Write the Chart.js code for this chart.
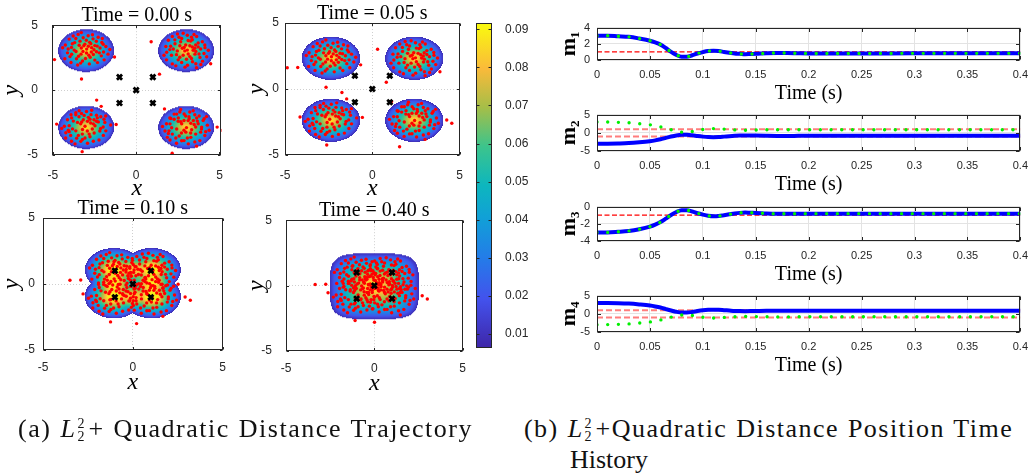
<!DOCTYPE html>
<html>
<head>
<meta charset="utf-8">
<script src="https://cdn.jsdelivr.net/npm/chart.js@4.4.1/dist/chart.umd.min.js"></script>
<style>
  body { margin: 0; background: #fff; width: 1036px; height: 476px; overflow: hidden; position: relative; }
  canvas { position: absolute; }
  .cap { position: absolute; font-family: "Liberation Serif", serif; font-size: 26px; line-height: 31px; color: #111; white-space: nowrap; word-spacing: 1px; }
  .ss { display: inline-block; position: relative; width: 12px; height: 0; text-indent: 0; }
  .ss span { position: absolute; left: 1px; font-size: 14px; line-height: 14px; font-style: normal; text-indent: 0; letter-spacing: 0; }
</style>
</head>
<body>
<canvas id="f0" width="236" height="197" style="left:0px;top:4px"></canvas>
<canvas id="f1" width="231" height="197" style="left:245px;top:4px"></canvas>
<canvas id="f2" width="236" height="196" style="left:0px;top:199px"></canvas>
<canvas id="f3" width="231" height="197" style="left:245px;top:199px"></canvas>
<canvas id="cbar" width="70" height="349" style="left:466px;top:11px"></canvas>
<canvas id="r0" width="486" height="90" style="left:550px;top:14px"></canvas>
<canvas id="r1" width="486" height="94" style="left:550px;top:101px"></canvas>
<canvas id="r2" width="486" height="92" style="left:550px;top:193px"></canvas>
<canvas id="r3" width="486" height="94" style="left:550px;top:282px"></canvas>

<div class="cap" style="left:18px;top:413px"><span class="fit" data-w="455">(a) <i>L</i><span class="ss"><span style="bottom:6px">2</span><span style="bottom:-7px">2</span></span>+ Quadratic Distance Trajectory</span></div>
<div class="cap" style="left:524px;top:413px;padding-left:46px;text-indent:-46px"><span class="fit" data-w="489">(b) <i>L</i><span class="ss"><span style="bottom:6px">2</span><span style="bottom:-7px">2</span></span>+Quadratic Distance Position Time</span><br>History</div>

<script>
// ---------- left: swarm snapshots ----------
const frameTitles = ["Time = 0.00 s", "Time = 0.05 s", "Time = 0.10 s", "Time = 0.40 s"];
const targets = [[-1, 1], [1, 1], [0, 0], [-1, -1], [1, -1]];

// centre of each agent group in every frame
const groupCenters = [
  [[-3, 3.05], [3, 3.05], [-3, -2.87], [3, -2.87]],
  [[-2.37, 2.33], [2.4, 2.33], [-2.37, -2.37], [2.4, -2.37]],
  [[-1.0, 1.0], [1.05, 1.0], [-1.0, -1.0], [1.05, -1.0]],
  [[-0.85, 0.8], [0.85, 0.8], [-0.85, -0.8], [0.85, -0.8]]
];

// agent positions relative to their group centre
const groupA = [[-1.25,0.42],[-1.02,0.88],[-0.78,1.12],[-0.48,1.24],[-0.18,0.98],[0.12,1.14],[0.41,0.9],[0.72,1.02],[0.94,0.62],[1.18,0.31],
  [-1.12,-0.18],[-0.88,0.24],[-0.69,0.61],[-0.37,0.72],[-0.08,0.49],[0.21,0.63],[0.52,0.38],[0.83,0.19],[1.04,-0.12],[1.31,-0.28],
  [-1.28,-0.63],[-0.97,-0.47],[-0.61,-0.08],[-0.29,0.19],[0.03,0.11],[0.33,0.22],[0.62,-0.09],[0.91,-0.41],[1.08,-0.72],[0.68,-0.93],
  [-0.91,-0.92],[-0.58,-0.63],[-0.31,-0.28],[0.02,-0.19],[0.24,-0.52],[0.43,-0.31],[0.52,-0.74],[0.19,-1.03],[-0.22,-0.81],[-0.51,-1.12],
  [-0.72,0.03],[-0.42,0.41],[-0.19,-0.07],[0.13,0.33],[0.31,-0.12],[0.61,0.71],[-0.83,0.52],[0.01,0.79],[0.38,1.21],[-0.29,1.38],
  [0.79,-0.18],[1.02,0.48],[-1.08,0.12],[-0.62,0.93],[0.16,-0.36],[-0.14,0.37],[0.47,0.06],[-0.46,-0.44],[0.66,0.34],[-0.04,-0.61],
  [0.28,0.52],[-0.87,-0.29],[0.97,0.93],[-0.33,-0.97],[1.42,0.08],[-1.41,0.21],
  [-2.5,-0.72],[-1.9,-0.7],[-0.28,-2.2],[1.7,-0.5]];
const groupB = [[-1.22,0.31],[-1.07,0.79],[-0.83,1.08],[-0.52,1.27],[-0.27,0.93],[0.07,1.17],[0.37,0.83],[0.63,1.08],[0.97,0.68],[1.13,0.22],
  [-1.17,-0.13],[-0.93,0.33],[-0.67,0.52],[-0.33,0.68],[-0.03,0.42],[0.27,0.73],[0.57,0.42],[0.87,0.12],[1.07,-0.23],[1.23,-0.48],
  [-1.18,-0.72],[-0.88,-0.37],[-0.53,-0.03],[-0.23,0.17],[0.07,0.03],[0.37,0.27],[0.58,-0.07],[0.83,-0.53],[0.98,-0.82],[0.58,-1.02],
  [-0.83,-1.03],[-0.48,-0.72],[-0.18,-0.37],[0.12,-0.27],[0.32,-0.62],[0.53,-0.28],[0.38,-0.87],[0.08,-1.13],[-0.27,-0.92],[-0.62,-1.18],
  [-0.77,0.12],[-0.38,0.37],[-0.08,-0.03],[0.22,0.37],[0.42,0.02],[0.72,0.58],[-0.68,0.82],[0.12,0.77],[0.47,1.23],[-0.18,1.33],
  [0.77,-0.27],[1.12,0.43],[-0.98,0.07],[-0.43,1.02],[0.22,-0.47],[-0.12,0.23],[0.52,0.17],[-0.38,-0.52],[0.72,0.28],[0.02,-0.67],
  [1.33,0.02],[-1.33,-0.37],[0.88,-1.08],[-0.07,-1.28],[0.32,1.02],[-0.58,-0.32],
  [-2.1,0.68],[-1.6,-1.82],[1.47,-1.02],[0.62,-1.32]];
const groupC = [[-1.31,0.08],[-1.12,0.58],[-0.91,0.97],[-0.62,1.13],[-0.28,1.07],[0.02,1.22],[0.29,0.98],[0.62,0.93],[0.88,0.82],[1.12,0.38],
  [-1.22,-0.42],[-1.02,0.13],[-0.77,0.48],[-0.43,0.82],[-0.17,0.58],[0.13,0.77],[0.47,0.58],[0.73,0.42],[1.02,0.03],[1.18,-0.27],
  [-1.23,-0.82],[-0.93,-0.62],[-0.62,-0.27],[-0.33,0.27],[-0.07,0.08],[0.27,0.33],[0.53,0.12],[0.82,-0.28],[1.03,-0.62],[0.77,-0.97],
  [-0.88,-1.07],[-0.57,-0.83],[-0.23,-0.52],[0.07,-0.28],[0.23,-0.72],[0.48,-0.43],[0.43,-1.07],[0.08,-1.22],[-0.32,-1.08],[-0.67,-1.27],
  [-0.82,-0.12],[-0.52,0.38],[-0.22,-0.17],[0.08,0.47],[0.37,-0.13],[0.67,0.73],[-0.87,0.73],[-0.12,0.92],[0.33,1.32],[-0.42,1.28],
  [0.87,-0.08],[1.07,0.62],[-1.07,-0.22],[-0.62,0.97],[0.18,-0.52],[-0.27,0.42],[0.43,0.27],[-0.47,-0.62],[0.62,0.47],[-0.07,-0.82],
  [0.23,0.62],[-1.02,-0.33],[1.17,0.88],[-0.22,-0.93],[1.47,0.18],[-1.47,-0.08],
  [0.63,2.1],[1.8,0.22],[-0.24,-1.87],[-1.77,0.25],[0.9,1.62]];
const groupD = [[-1.18,0.28],[-0.98,0.72],[-0.72,1.02],[-0.38,1.18],[-0.12,1.03],[0.22,1.18],[0.52,0.97],[0.78,0.87],[1.02,0.53],[1.27,0.17],
  [-1.27,-0.28],[-0.97,0.27],[-0.72,0.62],[-0.47,0.73],[-0.13,0.53],[0.17,0.82],[0.43,0.53],[0.72,0.28],[0.93,0.02],[1.17,-0.33],
  [-1.13,-0.77],[-0.83,-0.52],[-0.57,-0.13],[-0.27,0.28],[0.02,-0.02],[0.28,0.32],[0.57,0.03],[0.87,-0.37],[1.12,-0.63],[0.82,-1.02],
  [-0.97,-0.98],[-0.62,-0.82],[-0.28,-0.43],[-0.02,-0.37],[0.28,-0.77],[0.57,-0.52],[0.52,-1.12],[0.13,-1.27],[-0.27,-1.03],[-0.58,-1.22],
  [-0.87,-0.03],[-0.48,0.47],[-0.13,-0.22],[0.12,0.52],[0.33,-0.18],[0.63,0.72],[-0.92,0.68],[-0.03,0.87],[0.42,1.28],[-0.33,1.37],
  [0.92,-0.13],[1.08,0.67],[-1.03,-0.27],[-0.57,1.02],[0.27,-0.43],[-0.32,0.43],[0.48,0.22],[-0.42,-0.67],[0.67,0.48],[0.07,-0.82],
  [0.18,0.67],[-1.07,-0.47],[1.22,0.83],[-0.13,-1.02],[1.38,-0.22],[-1.42,0.07],
  [-0.84,-2.0],[1.86,0.02],[2.15,-0.23],[0.62,-1.45],[-1.3,1.42]];

// density support per frame: [cx, cy, rx, ry]
const frameLobes = [
  [[-3, 3.05, 1.68, 1.65], [3, 3.05, 1.68, 1.65], [-3, -2.87, 1.68, 1.66], [3, -2.87, 1.68, 1.66]],
  [[-2.37, 2.33, 1.67, 1.64], [2.4, 2.33, 1.67, 1.64], [-2.37, -2.37, 1.67, 1.64], [2.4, -2.37, 1.67, 1.64]],
  [[-1.05, 1.08, 1.62, 1.65], [1.05, 1.08, 1.62, 1.65], [-1.05, -0.95, 1.62, 1.65], [1.05, -0.95, 1.62, 1.65]],
  [[0, -0.05, 2.52, 2.52]]
];
const lobePower = [2, 2, 2, 4];
const lobeFalloff = [1.1, 1.1, 1.1, 1.4];
const lobeGain = [1, 1, 1.2, 1];
const xLimits = [[-5.05, 5.12], [-5, 5], [-5, 5], [-5, 5]];
const cbarRange = [0.0064, 0.0916];

// ---------- right: time histories ----------
const timeS = [0, 0.01, 0.02, 0.03, 0.04, 0.05, 0.055, 0.06, 0.065, 0.07, 0.075, 0.08, 0.085, 0.09, 0.095, 0.1,
  0.105, 0.11, 0.115, 0.12, 0.125, 0.13, 0.135, 0.14, 0.145, 0.15, 0.16, 0.17, 0.18, 0.19, 0.2, 0.25, 0.3, 0.35, 0.4];
const m1Blue = [3.0, 3.0, 2.93, 2.86, 2.65, 2.38, 2.17, 1.9, 1.48, 1.0, 0.62, 0.41, 0.41, 0.59, 0.8, 0.97,
  1.1, 1.14, 1.1, 1.0, 0.9, 0.8, 0.76, 0.72, 0.74, 0.76, 0.83, 0.86, 0.86, 0.83, 0.81, 0.81, 0.82, 0.82, 0.82];
const m1Green = [3.0, 3.0, 2.93, 2.86, 2.65, 2.38, 2.17, 1.9, 1.48, 1.0, 0.62, 0.41, 0.41, 0.59, 0.8, 0.97,
  1.1, 1.14, 1.1, 1.0, 0.9, 0.8, 0.76, 0.72, 0.74, 0.76, 0.83, 0.86, 0.86, 0.83, 0.81, 0.81, 0.82, 0.82, 0.82];
const m2Blue = [-3.0, -2.98, -2.92, -2.82, -2.6, -2.3, -2.08, -1.78, -1.4, -1.02, -0.72, -0.56, -0.55, -0.68, -0.88, -1.05,
  -1.17, -1.2, -1.16, -1.05, -0.93, -0.83, -0.76, -0.73, -0.74, -0.77, -0.82, -0.85, -0.85, -0.84, -0.83, -0.82, -0.82, -0.82, -0.82];
const m2Green = [3.0, 2.97, 2.88, 2.75, 2.5, 2.2, 1.95, 1.65, 1.25, 0.85, 0.45, 0.18, 0.15, 0.35, 0.62, 0.9,
  1.08, 1.15, 1.12, 1.02, 0.9, 0.8, 0.74, 0.72, 0.73, 0.76, 0.82, 0.85, 0.85, 0.83, 0.82, 0.82, 0.82, 0.82, 0.82];
const m3Blue = [-3.0, -3.0, -2.93, -2.83, -2.63, -2.33, -2.1, -1.8, -1.4, -0.97, -0.63, -0.43, -0.43, -0.57, -0.77, -0.93,
  -1.07, -1.13, -1.1, -1.0, -0.9, -0.8, -0.73, -0.7, -0.72, -0.73, -0.8, -0.83, -0.83, -0.83, -0.82, -0.82, -0.82, -0.82, -0.82];
const m3Green = [-3.0, -3.0, -2.93, -2.83, -2.63, -2.33, -2.1, -1.8, -1.4, -0.97, -0.63, -0.43, -0.43, -0.57, -0.77, -0.93,
  -1.07, -1.13, -1.1, -1.0, -0.9, -0.8, -0.73, -0.7, -0.72, -0.73, -0.8, -0.83, -0.83, -0.83, -0.82, -0.82, -0.82, -0.82, -0.82];
const m4Blue = [3.0, 2.98, 2.92, 2.8, 2.57, 2.27, 2.03, 1.72, 1.3, 0.9, 0.55, 0.35, 0.34, 0.5, 0.75, 0.95,
  1.08, 1.13, 1.1, 1.0, 0.9, 0.8, 0.75, 0.73, 0.74, 0.77, 0.83, 0.86, 0.86, 0.84, 0.82, 0.82, 0.82, 0.82, 0.82];
const m4Green = [-3.0, -2.97, -2.9, -2.78, -2.55, -2.25, -2.0, -1.7, -1.3, -0.92, -0.58, -0.35, -0.3, -0.45, -0.7, -0.93,
  -1.08, -1.14, -1.1, -1.0, -0.9, -0.8, -0.74, -0.72, -0.73, -0.76, -0.82, -0.85, -0.85, -0.83, -0.82, -0.82, -0.82, -0.82, -0.82];
const refLevels = [[1], [1, -1], [-1], [1, -1]];
const yLimits = [[0, 4, 2], [-5, 5, 5], [-4, 0, 2], [-5, 5, 5]];
const yNames = ["m\u2081", "m\u2082", "m\u2083", "m\u2084"];
const timeTicks = [0, 0.4, 0.05];

// ---------- styling ----------
const parula = [[0, 62, 38, 168], [0.15, 67, 82, 237], [0.28, 35, 125, 232], [0.4, 17, 160, 215], [0.5, 13, 182, 190],
  [0.62, 60, 196, 140], [0.74, 165, 190, 72], [0.86, 250, 186, 58], [1, 249, 251, 14]];
const tickGrey = "#262626";

function cmap(f) {
  f = Math.max(0, Math.min(1, f));
  for (let i = 1; i < parula.length; i++) {
    if (f <= parula[i][0]) {
      const a = parula[i - 1], b = parula[i];
      const t = (f - a[0]) / (b[0] - a[0]);
      return [a[1] + (b[1] - a[1]) * t, a[2] + (b[2] - a[2]) * t, a[3] + (b[3] - a[3]) * t];
    }
  }
  return parula[parula.length - 1].slice(1);
}

// box round the plot area with inward ticks, matlab style
function boxPlugin(tickLen) {
  return {
    id: "box",
    afterDraw(chart) {
      const ctx = chart.ctx, a = chart.chartArea;
      const l = Math.round(a.left) + 0.5, r = Math.round(a.right) - 0.5;
      const t = Math.round(a.top) + 0.5, b = Math.round(a.bottom) - 0.5;
      ctx.save();
      ctx.strokeStyle = tickGrey;
      ctx.lineWidth = 1;
      ctx.beginPath();
      Object.values(chart.scales).forEach(s => {
        if (!s.options.display) return;
        s.ticks.forEach(tk => {
          const p = Math.round(s.getPixelForValue(tk.value)) + 0.5;
          if (s.isHorizontal()) {
            ctx.moveTo(p, b); ctx.lineTo(p, b - tickLen);
            ctx.moveTo(p, t); ctx.lineTo(p, t + tickLen);
          } else {
            ctx.moveTo(l, p); ctx.lineTo(l + tickLen, p);
            ctx.moveTo(r, p); ctx.lineTo(r - tickLen, p);
          }
        });
      });
      ctx.stroke();
      ctx.strokeRect(l, t, r - l, b - t);
      ctx.restore();
    }
  };
}

// density surface painted under the agents
function fieldPlugin(k) {
  const lobes = frameLobes[k], p = lobePower[k], q = lobeFalloff[k], gain = lobeGain[k];
  return {
    id: "field",
    beforeDatasetsDraw(chart) {
      const a = chart.chartArea, xs = chart.scales.x, ys = chart.scales.y;
      const w = Math.round(a.right - a.left), h = Math.round(a.bottom - a.top);
      const off = document.createElement("canvas");
      off.width = w; off.height = h;
      const oc = off.getContext("2d");
      const img = oc.createImageData(w, h);
      for (let j = 0; j < h; j++) {
        const y = ys.getValueForPixel(a.top + j + 0.5);
        for (let i = 0; i < w; i++) {
          const x = xs.getValueForPixel(a.left + i + 0.5);
          let sum = 0, inside = false;
          lobes.forEach(L => {
            const d = Math.pow(Math.abs((x - L[0]) / L[2]), p) + Math.pow(Math.abs((y - L[1]) / L[3]), p);
            if (d < 1) { inside = true; sum += 1 - Math.pow(Math.pow(d, 1 / p), q); }
          });
          if (!inside) continue;
          const v = Math.min(1, sum * gain);
          const c = cmap(0.03 + 0.94 * v);
          const o = (j * w + i) * 4;
          img.data[o] = c[0]; img.data[o + 1] = c[1]; img.data[o + 2] = c[2]; img.data[o + 3] = 255;
        }
      }
      oc.putImageData(img, 0, 0);
      chart.ctx.drawImage(off, a.left, a.top);
    }
  };
}

function particlesFor(k) {
  const pts = [];
  [groupA, groupB, groupC, groupD].forEach((g, i) => {
    const c = groupCenters[k][i];
    g.forEach(q => pts.push({ x: c[0] + q[0], y: c[1] + q[1] }));
  });
  return pts;
}

const frameBoxes = [
  { yW: 52, yPad: 14, xPad: 13, xH: 46 },
  { yW: 40, yPad: 6, xPad: 13, xH: 46 },
  { yW: 43, yPad: 8, xPad: 10, xH: 45 },
  { yW: 41, yPad: 14, xPad: 10, xH: 45 }
];

frameTitles.forEach((title, k) => {
  const fb = frameBoxes[k];
  new Chart(document.getElementById("f" + k), {
    type: "scatter",
    data: {
      datasets: [
        {
          data: targets.map(q => ({ x: q[0], y: q[1] })),
          pointStyle: "crossRot", pointRadius: 3.6, borderWidth: 2.8,
          borderColor: "#000", backgroundColor: "#000", order: 0
        },
        {
          data: particlesFor(k),
          pointRadius: 1.7, borderWidth: 0, backgroundColor: "#ff0000", order: 1
        }
      ]
    },
    options: {
      responsive: false, animation: false, devicePixelRatio: 1,
      layout: { padding: { left: 0, right: 6, top: 0, bottom: 0 } },
      plugins: {
        legend: { display: false }, tooltip: { enabled: false },
        title: {
          display: true, text: title, fullSize: false, color: "#000",
          font: { family: "Liberation Serif", size: 20, weight: "normal", lineHeight: "19px" },
          padding: 0
        }
      },
      scales: {
        x: {
          type: "linear", min: xLimits[k][0], max: xLimits[k][1],
          ticks: { stepSize: 5, includeBounds: false, padding: fb.xPad, color: tickGrey, maxRotation: 0,
            font: { family: "Liberation Sans", size: 12 } },
          grid: { drawTicks: false, color: c => (c.tick && c.tick.value === 0 ? "#cfcfcf" : "rgba(0,0,0,0)") },
          border: { display: false, dash: [1, 2] },
          title: { display: true, text: "x", color: "#000", padding: 0,
            font: { family: "Liberation Serif", style: "italic", size: 24, lineHeight: "24px" } },
          afterFit(s) { s.height = fb.xH; }
        },
        y: {
          type: "linear", min: -5, max: 5,
          ticks: { stepSize: 5, includeBounds: false, padding: fb.yPad, color: tickGrey,
            font: { family: "Liberation Sans", size: 12 } },
          grid: { drawTicks: false, color: c => (c.tick && c.tick.value === 0 ? "#cfcfcf" : "rgba(0,0,0,0)") },
          border: { display: false, dash: [1, 2] },
          title: { display: true, text: "y", color: "#000", padding: { top: 4.6, bottom: 0 },
            font: { family: "Liberation Serif", style: "italic", size: 24, lineHeight: "14px" } },
          afterFit(s) { s.width = fb.yW; }
        }
      }
    },
    plugins: [fieldPlugin(k), boxPlugin(2.5)]
  });
});

// colour bar
new Chart(document.getElementById("cbar"), {
  type: "bar",
  data: {
    labels: [""],
    datasets: [{
      data: [cbarRange],
      barPercentage: 1, categoryPercentage: 1, borderWidth: 0,
      backgroundColor: c => {
        const ch = c.chart;
        if (!ch.chartArea) return "#000";
        const ys = ch.scales.y;
        const g = ch.ctx.createLinearGradient(0, ys.getPixelForValue(cbarRange[0]), 0, ys.getPixelForValue(cbarRange[1]));
        parula.forEach(s => g.addColorStop(s[0], "rgb(" + s[1] + "," + s[2] + "," + s[3] + ")"));
        return g;
      }
    }]
  },
  options: {
    responsive: false, animation: false, devicePixelRatio: 1,
    layout: { padding: { left: 10, right: 0, top: 10, bottom: 10 } },
    plugins: { legend: { display: false }, tooltip: { enabled: false } },
    scales: {
      x: { display: false },
      y: {
        position: "right", min: cbarRange[0], max: cbarRange[1],
        ticks: { stepSize: 0.01, includeBounds: false, padding: 5, color: tickGrey,
          font: { family: "Liberation Sans", size: 12 } },
        grid: { display: false }, border: { display: false },
        afterFit(s) { s.width = 44; }
      }
    }
  },
  plugins: [boxPlugin(3)]
});

// time histories
const rightSeries = [[m1Blue, m1Green], [m2Blue, m2Green], [m3Blue, m3Green], [m4Blue, m4Green]];
const xy = arr => arr.map((v, i) => ({ x: timeS[i], y: v }));

rightSeries.forEach((pair, k) => {
  const light = refLevels[k].length > 1;
  const refSets = refLevels[k].map(lv => ({
    data: [{ x: timeTicks[0], y: lv }, { x: timeTicks[1], y: lv }],
    borderColor: light ? "rgba(255,70,70,0.7)" : "#ff0000",
    borderWidth: light ? 2 : 1.3, borderDash: light ? [6, 3] : [5, 2.5],
    pointRadius: 0, order: 2
  }));
  new Chart(document.getElementById("r" + k), {
    type: "line",
    data: {
      datasets: [
        { data: xy(pair[1]), borderColor: "#00f000", borderWidth: 3.4, borderDash: [0, 10.7], borderCapStyle: "round",
          pointRadius: 0, cubicInterpolationMode: "monotone", order: 0 },
        { data: xy(pair[0]), borderColor: "#0000ff", borderWidth: 4, pointRadius: 0,
          cubicInterpolationMode: "monotone", order: 1 }
      ].concat(refSets)
    },
    options: {
      responsive: false, animation: false, devicePixelRatio: 1,
      layout: { padding: { left: 0, right: 13, top: 8, bottom: 0 } },
      plugins: { legend: { display: false }, tooltip: { enabled: false } },
      scales: {
        x: {
          type: "linear", min: timeTicks[0], max: timeTicks[1],
          ticks: { stepSize: timeTicks[2], includeBounds: false, autoSkip: false, padding: 8, color: tickGrey, maxRotation: 0,
            font: { family: "Liberation Sans", size: 11 },
            format: { minimumFractionDigits: 0, maximumFractionDigits: 2 } },
          grid: { drawTicks: false, color: "#e3e3e3" },
          border: { display: false },
          title: { display: true, text: "Time (s)", color: "#000", padding: { top: 0, bottom: 0.5 },
            font: { family: "Liberation Serif", size: 20, lineHeight: "20px" } },
          afterFit(s) { s.height = 44; }
        },
        y: {
          type: "linear", min: yLimits[k][0], max: yLimits[k][1],
          ticks: { stepSize: yLimits[k][2], includeBounds: false, padding: 7, color: tickGrey,
            font: { family: "Liberation Sans", size: 11 } },
          grid: { drawTicks: false, color: "#e3e3e3" },
          border: { display: false },
          title: { display: true, text: yNames[k], color: "#000", padding: { top: 8.6, bottom: 0 },
            font: { family: "Liberation Serif", size: 22, weight: "bold", lineHeight: "22px" } },
          afterFit(s) { s.width = 47; }
        }
      }
    },
    plugins: [boxPlugin(3.5)]
  });
});

// stretch captions to the measured line widths
document.querySelectorAll(".fit").forEach(el => {
  const target = +el.dataset.w;
  const w = el.getBoundingClientRect().width;
  const n = el.textContent.length - 2;
  el.style.letterSpacing = ((target - w) / n).toFixed(2) + "px";
});
</script>
</body>
</html>
